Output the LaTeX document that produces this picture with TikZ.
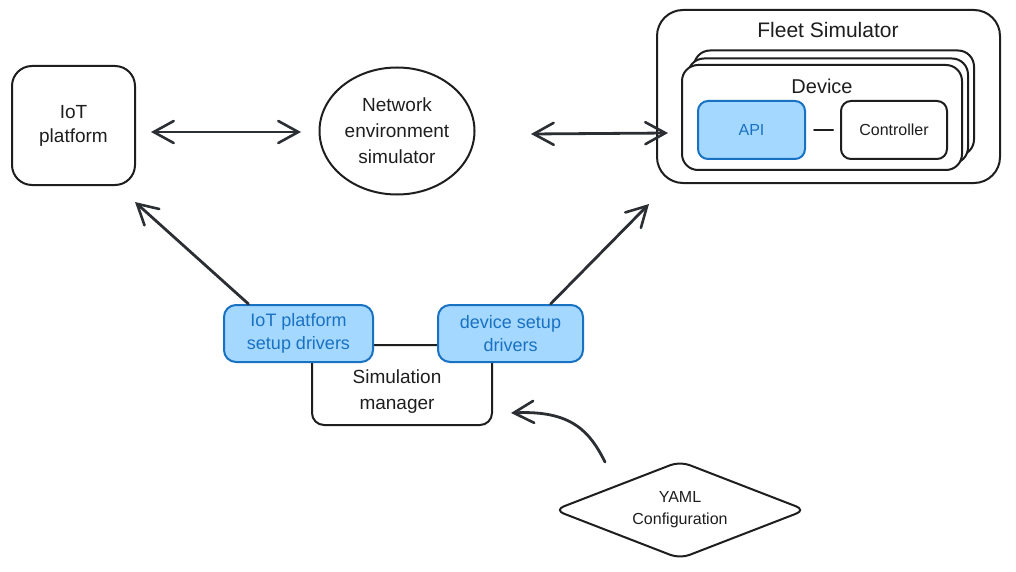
\documentclass[tikz,border=0pt]{standalone}
\usepackage{fontspec}
\setmainfont{Liberation Sans}
\usetikzlibrary{arrows.meta,shapes.geometric}
\definecolor{ink}{HTML}{1E1E1E}
\definecolor{arrink}{HTML}{2B2F33}
\definecolor{bluefill}{HTML}{A5D8FF}
\definecolor{bluestroke}{HTML}{1971C2}
\tikzset{
  box/.style={draw=ink, line width=2pt, rounded corners=14pt, fill=white, align=center, inner sep=0pt, font=\fontsize{19}{24}\selectfont, text=ink},
  bluebox/.style={draw=bluestroke, line width=2pt, rounded corners=12pt, fill=bluefill, align=center, inner sep=0pt, font=\fontsize{18}{23}\selectfont, text=bluestroke},
  conn/.style={draw=arrink, line width=2.8pt, line cap=round},
  tipb/.tip={Straight Barb[length=20pt,width=22pt,line width=2.6pt,line cap=round]},
  arr/.style={conn, -tipb},
  darr/.style={conn, tipb-tipb},
}
\begin{document}
\begin{tikzpicture}[x=1pt,y=-1pt]
\useasboundingbox (0,0) rectangle (1016,572);
% IoT platform
\node[box, minimum width=123pt, minimum height=119pt, rounded corners=20pt] (iot) at (73.5,125.5) {IoT\\platform};
% Network environment simulator
\node[draw=ink, line width=2pt, ellipse, minimum width=155pt, minimum height=127pt, inner sep=0pt, align=center, font=\fontsize{19}{26}\selectfont, text=ink] (net) at (397,131) {Network\\environment\\simulator};
% Fleet simulator
\node[box, minimum width=343pt, minimum height=173pt, rounded corners=26pt] (fleet) at (828.5,96.5) {};
\node[font=\fontsize{21}{24}\selectfont, text=ink] (fleett) at (828,30) {Fleet Simulator};
% Device stack
\node[box, minimum width=280pt, minimum height=105pt, rounded corners=16pt] (dev3) at (834,103) {};
\node[box, minimum width=280pt, minimum height=105pt, rounded corners=16pt] (dev2) at (828,111) {};
\node[box, minimum width=280pt, minimum height=105pt, rounded corners=16pt] (dev) at (822,117.5) {};
\node[font=\fontsize{20}{24}\selectfont, text=ink] (devt) at (822,86) {Device};
\node[bluebox, minimum width=107pt, minimum height=58pt, rounded corners=10pt, font=\fontsize{16}{20}\selectfont] (api) at (751.5,130) {API};
\node[box, minimum width=106pt, minimum height=58pt, rounded corners=10pt, font=\fontsize{16}{20}\selectfont] (ctrl) at (894,130) {Controller};
\draw[conn, draw=ink, line width=2pt] ([xshift=8pt]api.east) -- ([xshift=-7pt]ctrl.west);
% Simulation manager and drivers
\node[box, minimum width=180pt, minimum height=80pt, rounded corners=12pt] (sim) at (402,385) {};
\node[font=\fontsize{19}{26}\selectfont, text=ink, align=center] (simt) at (397,392) {Simulation\\manager};
\node[bluebox, minimum width=149pt, minimum height=57pt] (iotdrv) at (298.5,333.5) {IoT platform\\setup drivers};
\node[bluebox, minimum width=145pt, minimum height=57pt] (devdrv) at (510.5,333.5) {device setup\\drivers};
% YAML
\node[draw=ink, line width=2pt, diamond, rounded corners=10pt, minimum width=252pt, minimum height=98pt, inner sep=0pt, fill=white, align=center, font=\fontsize{16}{22}\selectfont, text=ink, aspect=2.56] (yaml) at (680,510) {YAML\\Configuration};
% connectors
\coordinate (a1s) at (151,132);
\coordinate (a1e) at (301,132);
\draw[darr] (a1s) -- (a1e);
\coordinate (a2s) at (531,134);
\coordinate (a2e) at (668,133);
\draw[darr] (a2s) -- (a2e);
\draw[arr] ([xshift=-50pt]iotdrv.north) -- (135,202);
\draw[arr] ([xshift=40pt]devdrv.north) -- (649,204);
\coordinate (ys) at (605,462);
\draw[arr] (ys) .. controls (590,432) and (572,410) .. (511,413);
\end{tikzpicture}
\end{document}
